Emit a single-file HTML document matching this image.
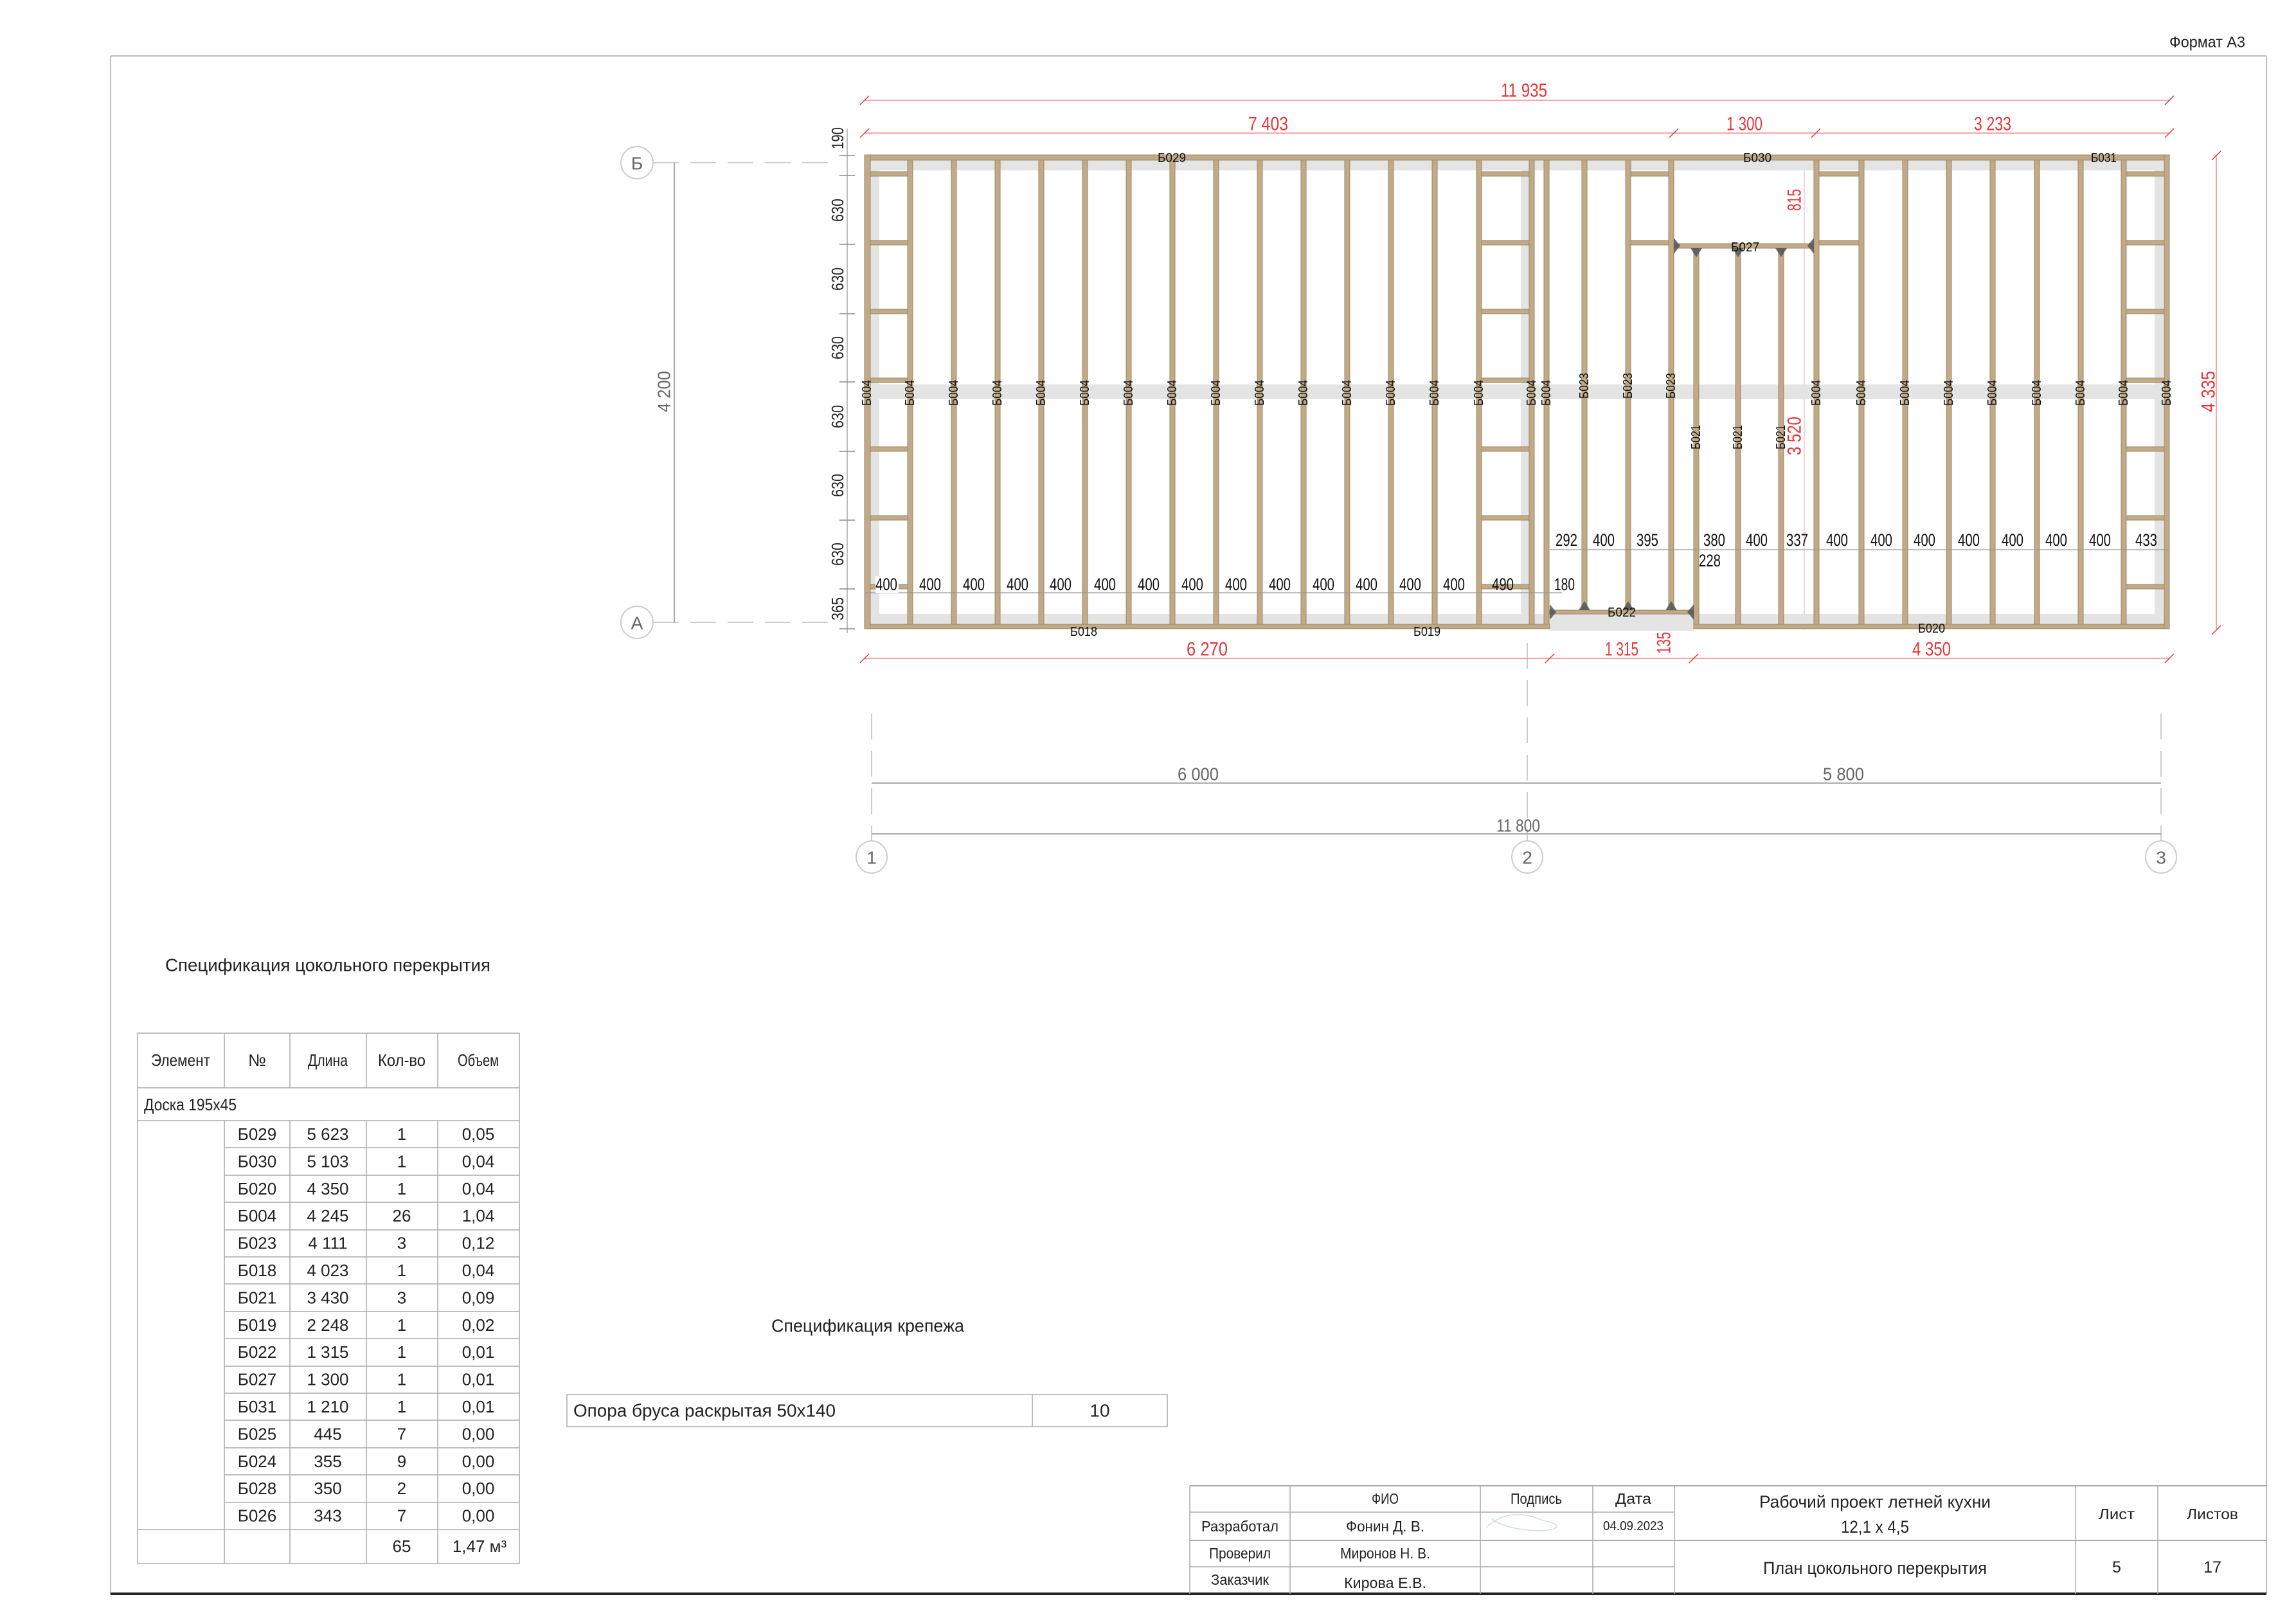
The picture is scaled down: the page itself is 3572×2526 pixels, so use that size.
<!DOCTYPE html>
<html><head><meta charset="utf-8"><style>
html,body{margin:0;padding:0;background:#fff;}
svg{display:block;font-family:"Liberation Sans","DejaVu Sans",sans-serif;}
</style></head><body>
<svg width="3572" height="2526" viewBox="0 0 3572 2526" xmlns="http://www.w3.org/2000/svg">
<rect width="3572" height="2526" fill="#fff"/>
<!-- sheet frame -->
<line x1="172" y1="87" x2="3526" y2="87" stroke="#bbb" stroke-width="2"/>
<line x1="172" y1="87" x2="172" y2="2479" stroke="#bbb" stroke-width="2"/>
<line x1="3526" y1="87" x2="3526" y2="2479" stroke="#bbb" stroke-width="2"/>
<line x1="172" y1="2479" x2="3526" y2="2479" stroke="#222" stroke-width="4"/>
<text x="3434" y="66" font-size="24" text-anchor="middle" dominant-baseline="central" textLength="118" lengthAdjust="spacingAndGlyphs" fill="#222">Формат А3</text>

<!-- grid axes -->
<g stroke="#ccc" stroke-width="2" fill="none">
<ellipse cx="991" cy="253" rx="25" ry="25"/>
<ellipse cx="991" cy="968" rx="25" ry="25"/>
<ellipse cx="1356" cy="1333" rx="24" ry="25"/>
<ellipse cx="2376" cy="1333" rx="24" ry="25"/>
<ellipse cx="3362" cy="1333" rx="24" ry="25"/>
<line x1="1016" y1="253" x2="1300" y2="253" stroke-dasharray="40,18"/>
<line x1="1016" y1="968" x2="1300" y2="968" stroke-dasharray="40,18"/>
<line x1="1356" y1="1110" x2="1356" y2="1308" stroke-dasharray="40,18"/>
<line x1="2376" y1="1000" x2="2376" y2="1308" stroke-dasharray="40,18"/>
<line x1="3362" y1="1110" x2="3362" y2="1308" stroke-dasharray="40,18"/>
</g>
<g stroke="#aaa" stroke-width="2">
<line x1="1049" y1="253" x2="1049" y2="968"/>
<line x1="1356" y1="1218" x2="3362" y2="1218"/>
<line x1="1356" y1="1297" x2="3362" y2="1297"/>
</g>
<g fill="#666" font-size="28" text-anchor="middle" dominant-baseline="central">
<text x="991" y="254">Б</text><text x="991" y="969">А</text>
<text x="1356" y="1334">1</text><text x="2376" y="1334">2</text><text x="3362" y="1334">3</text>
<text x="1864" y="1204" textLength="64" lengthAdjust="spacingAndGlyphs">6 000</text>
<text x="2868" y="1204" textLength="64" lengthAdjust="spacingAndGlyphs">5 800</text>
<text x="2362" y="1284" textLength="68" lengthAdjust="spacingAndGlyphs">11 800</text>
<text transform="translate(1033,609) rotate(-90)" textLength="64" lengthAdjust="spacingAndGlyphs">4 200</text>
</g>

<!-- left dim column -->
<line x1="1318" y1="200" x2="1318" y2="985" stroke="#aaa" stroke-width="1.5"/>
<g stroke="#888" stroke-width="1.5">
<line x1="1306" y1="242" x2="1330" y2="242"/><line x1="1306" y1="273" x2="1330" y2="273"/>
<line x1="1306" y1="380" x2="1330" y2="380"/><line x1="1306" y1="488" x2="1330" y2="488"/>
<line x1="1306" y1="594" x2="1330" y2="594"/><line x1="1306" y1="702" x2="1330" y2="702"/>
<line x1="1306" y1="809" x2="1330" y2="809"/><line x1="1306" y1="916" x2="1330" y2="916"/>
<line x1="1306" y1="978" x2="1330" y2="978"/>
</g>
<g fill="#222" font-size="26" text-anchor="middle" dominant-baseline="central">
<text transform="translate(1303,215) rotate(-90)" textLength="34" lengthAdjust="spacingAndGlyphs">190</text>
<text transform="translate(1303,327) rotate(-90)" textLength="36" lengthAdjust="spacingAndGlyphs">630</text>
<text transform="translate(1303,434) rotate(-90)" textLength="36" lengthAdjust="spacingAndGlyphs">630</text>
<text transform="translate(1303,541) rotate(-90)" textLength="36" lengthAdjust="spacingAndGlyphs">630</text>
<text transform="translate(1303,648) rotate(-90)" textLength="36" lengthAdjust="spacingAndGlyphs">630</text>
<text transform="translate(1303,755) rotate(-90)" textLength="36" lengthAdjust="spacingAndGlyphs">630</text>
<text transform="translate(1303,862) rotate(-90)" textLength="36" lengthAdjust="spacingAndGlyphs">630</text>
<text transform="translate(1303,947) rotate(-90)" textLength="36" lengthAdjust="spacingAndGlyphs">365</text>
</g>

<!-- red dims -->
<g stroke="#f08a8e" stroke-width="1.5">
<line x1="1345" y1="156" x2="3375" y2="156"/>
<line x1="1345" y1="207" x2="3375" y2="207"/>
<line x1="1345" y1="1024" x2="3375" y2="1024"/>
<line x1="3448" y1="242" x2="3448" y2="980"/>
<line x1="2807" y1="242" x2="2807" y2="980" stroke="#f5c5c7"/>
</g>
<g stroke="#e8343a" stroke-width="1.5">
<line x1="1338" y1="163" x2="1352" y2="149"/><line x1="3368" y1="163" x2="3382" y2="149"/>
<line x1="1338" y1="214" x2="1352" y2="200"/><line x1="2597" y1="214" x2="2611" y2="200"/><line x1="2818" y1="214" x2="2832" y2="200"/><line x1="3368" y1="214" x2="3382" y2="200"/>
<line x1="1338" y1="1031" x2="1352" y2="1017"/><line x1="2404" y1="1031" x2="2418" y2="1017"/><line x1="2628" y1="1031" x2="2642" y2="1017"/><line x1="3368" y1="1031" x2="3382" y2="1017"/>
<line x1="3441" y1="249" x2="3455" y2="235"/><line x1="3441" y1="987" x2="3455" y2="973"/>
</g>
<g fill="#e8343a" font-size="30" text-anchor="middle" dominant-baseline="central">
<text x="2371" y="141" textLength="72" lengthAdjust="spacingAndGlyphs">11 935</text>
<text x="1973" y="193" textLength="62" lengthAdjust="spacingAndGlyphs">7 403</text>
<text x="2714" y="193" textLength="56" lengthAdjust="spacingAndGlyphs">1 300</text>
<text x="3100" y="193" textLength="58" lengthAdjust="spacingAndGlyphs">3 233</text>
<text x="1878" y="1010" textLength="64" lengthAdjust="spacingAndGlyphs">6 270</text>
<text x="2523" y="1010" textLength="52" lengthAdjust="spacingAndGlyphs">1 315</text>
<text x="3005" y="1010" textLength="60" lengthAdjust="spacingAndGlyphs">4 350</text>
<text transform="translate(2589,1000) rotate(-90)" textLength="34" lengthAdjust="spacingAndGlyphs">135</text>
<text transform="translate(2792,311) rotate(-90)" textLength="34" lengthAdjust="spacingAndGlyphs">815</text>
<text transform="translate(2792,678) rotate(-90)" textLength="60" lengthAdjust="spacingAndGlyphs">3 520</text>
<text transform="translate(3436,609) rotate(-90)" textLength="64" lengthAdjust="spacingAndGlyphs">4 335</text>
</g>

<!-- gray bands -->
<g fill="#e4e4e4">
<rect x="1354" y="249" width="2013" height="16"/>
<rect x="1354" y="598" width="2013" height="23"/>
<rect x="1354" y="955" width="1057" height="16"/>
<rect x="2411" y="955" width="224" height="26"/>
<rect x="2635" y="955" width="732" height="16"/>
<rect x="1354" y="265" width="14" height="690"/>
<rect x="2366" y="265" width="14" height="690"/>
<rect x="3352" y="265" width="14" height="690"/>
</g>

<!-- timber -->
<g fill="#c0aa87" stroke="#9c8664" stroke-width="1">
<rect x="1345" y="241" width="2030" height="8"/>
<rect x="1345" y="971" width="1066" height="7"/>
<rect x="2635" y="971" width="740" height="7"/>
<rect x="1345" y="241" width="9" height="737"/>
<rect x="3367" y="241" width="8" height="737"/>
<!-- studs full -->
<rect x="1412" y="249" width="8" height="722"/><rect x="1480" y="249" width="8" height="722"/>
<rect x="1548" y="249" width="8" height="722"/><rect x="1616" y="249" width="8" height="722"/>
<rect x="1684" y="249" width="8" height="722"/><rect x="1752" y="249" width="8" height="722"/>
<rect x="1820" y="249" width="8" height="722"/><rect x="1888" y="249" width="8" height="722"/>
<rect x="1956" y="249" width="8" height="722"/><rect x="2024" y="249" width="8" height="722"/>
<rect x="2092" y="249" width="8" height="722"/><rect x="2160" y="249" width="8" height="722"/>
<rect x="2228" y="249" width="8" height="722"/><rect x="2297" y="249" width="8" height="722"/>
<rect x="2379" y="249" width="8" height="722"/><rect x="2402" y="249" width="8" height="722"/>
<rect x="2822" y="249" width="8" height="722"/><rect x="2892" y="249" width="8" height="722"/>
<rect x="2960" y="249" width="8" height="722"/><rect x="3028" y="249" width="8" height="722"/>
<rect x="3096" y="249" width="8" height="722"/><rect x="3165" y="249" width="8" height="722"/>
<rect x="3233" y="249" width="8" height="722"/><rect x="3300" y="249" width="8" height="722"/>
<!-- Б023 -->
<rect x="2461" y="249" width="8" height="700"/><rect x="2529" y="249" width="8" height="700"/><rect x="2596" y="249" width="8" height="700"/>
<!-- Б021 -->
<rect x="2635" y="386" width="8" height="585"/><rect x="2700" y="386" width="8" height="585"/><rect x="2767" y="386" width="8" height="585"/>
<!-- headers -->
<rect x="2604" y="379" width="218" height="7"/>
<rect x="2411" y="949" width="224" height="6"/>
<!-- blocking -->
<rect x="1354" y="267" width="58" height="7"/><rect x="1354" y="374" width="58" height="7"/><rect x="1354" y="481" width="58" height="7"/><rect x="1354" y="588" width="58" height="7"/><rect x="1354" y="695" width="58" height="7"/><rect x="1354" y="802" width="58" height="7"/><rect x="1354" y="909" width="58" height="7"/>
<rect x="2305" y="267" width="74" height="7"/><rect x="2305" y="374" width="74" height="7"/><rect x="2305" y="481" width="74" height="7"/><rect x="2305" y="588" width="74" height="7"/><rect x="2305" y="695" width="74" height="7"/><rect x="2305" y="802" width="74" height="7"/><rect x="2305" y="909" width="74" height="7"/>
<rect x="3308" y="267" width="59" height="7"/><rect x="3308" y="374" width="59" height="7"/><rect x="3308" y="481" width="59" height="7"/><rect x="3308" y="588" width="59" height="7"/><rect x="3308" y="695" width="59" height="7"/><rect x="3308" y="802" width="59" height="7"/><rect x="3308" y="909" width="59" height="7"/>
<rect x="2537" y="267" width="59" height="7"/><rect x="2537" y="374" width="59" height="7"/>
<rect x="2830" y="267" width="62" height="7"/><rect x="2830" y="374" width="62" height="7"/>
</g>
<!-- hangers -->
<g fill="#555" opacity="0.85">
<polygon points="2604,370 2614,382 2604,395"/><polygon points="2822,370 2812,382 2822,395"/>
<polygon points="2630,386 2648,386 2639,400"/><polygon points="2695,386 2713,386 2704,400"/><polygon points="2762,386 2780,386 2771,400"/>
<polygon points="2411,940 2421,952 2411,964"/><polygon points="2635,940 2625,952 2635,964"/>
<polygon points="2456,949 2474,949 2465,935"/><polygon points="2524,949 2542,949 2533,935"/><polygon points="2591,949 2609,949 2600,935"/>
</g>

<!-- member labels -->
<g fill="#111" font-size="20" text-anchor="middle" dominant-baseline="central">
<g>
<text transform="translate(1349,611) rotate(-90)" textLength="40" lengthAdjust="spacingAndGlyphs">Б004</text>
<text transform="translate(1416,611) rotate(-90)" textLength="40" lengthAdjust="spacingAndGlyphs">Б004</text>
<text transform="translate(1484,611) rotate(-90)" textLength="40" lengthAdjust="spacingAndGlyphs">Б004</text>
<text transform="translate(1552,611) rotate(-90)" textLength="40" lengthAdjust="spacingAndGlyphs">Б004</text>
<text transform="translate(1620,611) rotate(-90)" textLength="40" lengthAdjust="spacingAndGlyphs">Б004</text>
<text transform="translate(1688,611) rotate(-90)" textLength="40" lengthAdjust="spacingAndGlyphs">Б004</text>
<text transform="translate(1756,611) rotate(-90)" textLength="40" lengthAdjust="spacingAndGlyphs">Б004</text>
<text transform="translate(1824,611) rotate(-90)" textLength="40" lengthAdjust="spacingAndGlyphs">Б004</text>
<text transform="translate(1892,611) rotate(-90)" textLength="40" lengthAdjust="spacingAndGlyphs">Б004</text>
<text transform="translate(1960,611) rotate(-90)" textLength="40" lengthAdjust="spacingAndGlyphs">Б004</text>
<text transform="translate(2028,611) rotate(-90)" textLength="40" lengthAdjust="spacingAndGlyphs">Б004</text>
<text transform="translate(2096,611) rotate(-90)" textLength="40" lengthAdjust="spacingAndGlyphs">Б004</text>
<text transform="translate(2164,611) rotate(-90)" textLength="40" lengthAdjust="spacingAndGlyphs">Б004</text>
<text transform="translate(2232,611) rotate(-90)" textLength="40" lengthAdjust="spacingAndGlyphs">Б004</text>
<text transform="translate(2301,611) rotate(-90)" textLength="40" lengthAdjust="spacingAndGlyphs">Б004</text>
<text transform="translate(2383,611) rotate(-90)" textLength="40" lengthAdjust="spacingAndGlyphs">Б004</text>
<text transform="translate(2406,611) rotate(-90)" textLength="40" lengthAdjust="spacingAndGlyphs">Б004</text>
<text transform="translate(2465,600) rotate(-90)" textLength="40" lengthAdjust="spacingAndGlyphs">Б023</text>
<text transform="translate(2533,600) rotate(-90)" textLength="40" lengthAdjust="spacingAndGlyphs">Б023</text>
<text transform="translate(2600,600) rotate(-90)" textLength="40" lengthAdjust="spacingAndGlyphs">Б023</text>
<text transform="translate(2639,680) rotate(-90)" textLength="38" lengthAdjust="spacingAndGlyphs">Б021</text>
<text transform="translate(2704,680) rotate(-90)" textLength="38" lengthAdjust="spacingAndGlyphs">Б021</text>
<text transform="translate(2771,680) rotate(-90)" textLength="38" lengthAdjust="spacingAndGlyphs">Б021</text>
<text transform="translate(2826,611) rotate(-90)" textLength="40" lengthAdjust="spacingAndGlyphs">Б004</text>
<text transform="translate(2896,611) rotate(-90)" textLength="40" lengthAdjust="spacingAndGlyphs">Б004</text>
<text transform="translate(2964,611) rotate(-90)" textLength="40" lengthAdjust="spacingAndGlyphs">Б004</text>
<text transform="translate(3032,611) rotate(-90)" textLength="40" lengthAdjust="spacingAndGlyphs">Б004</text>
<text transform="translate(3100,611) rotate(-90)" textLength="40" lengthAdjust="spacingAndGlyphs">Б004</text>
<text transform="translate(3169,611) rotate(-90)" textLength="40" lengthAdjust="spacingAndGlyphs">Б004</text>
<text transform="translate(3237,611) rotate(-90)" textLength="40" lengthAdjust="spacingAndGlyphs">Б004</text>
<text transform="translate(3304,611) rotate(-90)" textLength="40" lengthAdjust="spacingAndGlyphs">Б004</text>
<text transform="translate(3371,611) rotate(-90)" textLength="40" lengthAdjust="spacingAndGlyphs">Б004</text>
</g>
<text x="1823" y="246" textLength="44" lengthAdjust="spacingAndGlyphs">Б029</text>
<text x="2734" y="246" textLength="44" lengthAdjust="spacingAndGlyphs">Б030</text>
<text x="3273" y="246" textLength="40" lengthAdjust="spacingAndGlyphs">Б031</text>
<text x="1686" y="983" textLength="42" lengthAdjust="spacingAndGlyphs">Б018</text>
<text x="2220" y="983" textLength="42" lengthAdjust="spacingAndGlyphs">Б019</text>
<text x="3005" y="978" textLength="42" lengthAdjust="spacingAndGlyphs">Б020</text>
<text x="2715" y="385" textLength="44" lengthAdjust="spacingAndGlyphs">Б027</text>
<text x="2523" y="953" textLength="44" lengthAdjust="spacingAndGlyphs">Б022</text>
</g>

<!-- internal dims -->
<g stroke="#999" stroke-width="1.2">
<line x1="1345" y1="922" x2="2430" y2="922"/>
<line x1="2411" y1="855" x2="3375" y2="855"/>
</g>
<g font-size="27" text-anchor="middle" dominant-baseline="central" fill="#111">
<g fill="#fff"><rect x="1362" y="896" width="36" height="26"/></g>
<text x="1379" y="909" textLength="34" lengthAdjust="spacingAndGlyphs">400</text>
<text x="1447" y="909" textLength="34" lengthAdjust="spacingAndGlyphs">400</text>
<text x="1515" y="909" textLength="34" lengthAdjust="spacingAndGlyphs">400</text>
<text x="1583" y="909" textLength="34" lengthAdjust="spacingAndGlyphs">400</text>
<text x="1650" y="909" textLength="34" lengthAdjust="spacingAndGlyphs">400</text>
<text x="1719" y="909" textLength="34" lengthAdjust="spacingAndGlyphs">400</text>
<text x="1787" y="909" textLength="34" lengthAdjust="spacingAndGlyphs">400</text>
<text x="1855" y="909" textLength="34" lengthAdjust="spacingAndGlyphs">400</text>
<text x="1923" y="909" textLength="34" lengthAdjust="spacingAndGlyphs">400</text>
<text x="1991" y="909" textLength="34" lengthAdjust="spacingAndGlyphs">400</text>
<text x="2059" y="909" textLength="34" lengthAdjust="spacingAndGlyphs">400</text>
<text x="2126" y="909" textLength="34" lengthAdjust="spacingAndGlyphs">400</text>
<text x="2194" y="909" textLength="34" lengthAdjust="spacingAndGlyphs">400</text>
<text x="2262" y="909" textLength="34" lengthAdjust="spacingAndGlyphs">400</text>
<text x="2338" y="909" textLength="34" lengthAdjust="spacingAndGlyphs">490</text>
<text x="2434" y="909" textLength="32" lengthAdjust="spacingAndGlyphs">180</text>
<text x="2437" y="840" textLength="34" lengthAdjust="spacingAndGlyphs">292</text>
<text x="2495" y="840" textLength="34" lengthAdjust="spacingAndGlyphs">400</text>
<text x="2563" y="840" textLength="34" lengthAdjust="spacingAndGlyphs">395</text>
<text x="2667" y="840" textLength="34" lengthAdjust="spacingAndGlyphs">380</text>
<text x="2733" y="840" textLength="34" lengthAdjust="spacingAndGlyphs">400</text>
<text x="2796" y="840" textLength="34" lengthAdjust="spacingAndGlyphs">337</text>
<text x="2858" y="840" textLength="34" lengthAdjust="spacingAndGlyphs">400</text>
<text x="2927" y="840" textLength="34" lengthAdjust="spacingAndGlyphs">400</text>
<text x="2994" y="840" textLength="34" lengthAdjust="spacingAndGlyphs">400</text>
<text x="3063" y="840" textLength="34" lengthAdjust="spacingAndGlyphs">400</text>
<text x="3131" y="840" textLength="34" lengthAdjust="spacingAndGlyphs">400</text>
<text x="3199" y="840" textLength="34" lengthAdjust="spacingAndGlyphs">400</text>
<text x="3267" y="840" textLength="34" lengthAdjust="spacingAndGlyphs">400</text>
<text x="3339" y="840" textLength="34" lengthAdjust="spacingAndGlyphs">433</text>
<rect x="2644" y="858" width="38" height="28" fill="#fff"/>
<text x="2660" y="872" textLength="34" lengthAdjust="spacingAndGlyphs">228</text>
</g>

<!-- spec table -->
<text x="510" y="1501" font-size="28" text-anchor="middle" dominant-baseline="central" textLength="506" lengthAdjust="spacingAndGlyphs" fill="#222">Спецификация цокольного перекрытия</text>
<g stroke="#aaa" stroke-width="1.5" fill="none">
<rect x="214" y="1607" width="594" height="825"/>
<line x1="214" y1="1692" x2="808" y2="1692"/>
<line x1="214" y1="1743" x2="808" y2="1743"/>
<line x1="214" y1="2379" x2="808" y2="2379"/>
<line x1="349" y1="1607" x2="349" y2="1692"/><line x1="451" y1="1607" x2="451" y2="1692"/><line x1="570" y1="1607" x2="570" y2="1692"/><line x1="681" y1="1607" x2="681" y2="1692"/>
<line x1="349" y1="1743" x2="349" y2="2432"/><line x1="451" y1="1743" x2="451" y2="2432"/><line x1="570" y1="1743" x2="570" y2="2432"/><line x1="681" y1="1743" x2="681" y2="2432"/>
<line x1="349" y1="1785" x2="808" y2="1785"/><line x1="349" y1="1828" x2="808" y2="1828"/><line x1="349" y1="1870" x2="808" y2="1870"/>
<line x1="349" y1="1913" x2="808" y2="1913"/><line x1="349" y1="1955" x2="808" y2="1955"/><line x1="349" y1="1997" x2="808" y2="1997"/>
<line x1="349" y1="2040" x2="808" y2="2040"/><line x1="349" y1="2082" x2="808" y2="2082"/><line x1="349" y1="2125" x2="808" y2="2125"/>
<line x1="349" y1="2167" x2="808" y2="2167"/><line x1="349" y1="2209" x2="808" y2="2209"/><line x1="349" y1="2252" x2="808" y2="2252"/>
<line x1="349" y1="2294" x2="808" y2="2294"/><line x1="349" y1="2337" x2="808" y2="2337"/>
</g>
<g font-size="26" fill="#222" text-anchor="middle" dominant-baseline="central">
<text x="281" y="1649" textLength="92" lengthAdjust="spacingAndGlyphs">Элемент</text>
<text x="400" y="1649">№</text>
<text x="510" y="1649" textLength="62" lengthAdjust="spacingAndGlyphs">Длина</text>
<text x="625" y="1649" textLength="74" lengthAdjust="spacingAndGlyphs">Кол-во</text>
<text x="744" y="1649" textLength="64" lengthAdjust="spacingAndGlyphs">Объем</text>
<text x="224" y="1718" text-anchor="start" textLength="144" lengthAdjust="spacingAndGlyphs">Доска 195x45</text>
</g>
<g font-size="26" fill="#222" text-anchor="middle" dominant-baseline="central">
<g transform="translate(0,1764)">
<text x="400" y="0">Б029</text><text x="510" y="0">5 623</text><text x="625" y="0">1</text><text x="744" y="0">0,05</text>
<text x="400" y="42.4">Б030</text><text x="510" y="42.4">5 103</text><text x="625" y="42.4">1</text><text x="744" y="42.4">0,04</text>
<text x="400" y="84.8">Б020</text><text x="510" y="84.8">4 350</text><text x="625" y="84.8">1</text><text x="744" y="84.8">0,04</text>
<text x="400" y="127.2">Б004</text><text x="510" y="127.2">4 245</text><text x="625" y="127.2">26</text><text x="744" y="127.2">1,04</text>
<text x="400" y="169.6">Б023</text><text x="510" y="169.6">4 111</text><text x="625" y="169.6">3</text><text x="744" y="169.6">0,12</text>
<text x="400" y="212">Б018</text><text x="510" y="212">4 023</text><text x="625" y="212">1</text><text x="744" y="212">0,04</text>
<text x="400" y="254.4">Б021</text><text x="510" y="254.4">3 430</text><text x="625" y="254.4">3</text><text x="744" y="254.4">0,09</text>
<text x="400" y="296.8">Б019</text><text x="510" y="296.8">2 248</text><text x="625" y="296.8">1</text><text x="744" y="296.8">0,02</text>
<text x="400" y="339.2">Б022</text><text x="510" y="339.2">1 315</text><text x="625" y="339.2">1</text><text x="744" y="339.2">0,01</text>
<text x="400" y="381.6">Б027</text><text x="510" y="381.6">1 300</text><text x="625" y="381.6">1</text><text x="744" y="381.6">0,01</text>
<text x="400" y="424">Б031</text><text x="510" y="424">1 210</text><text x="625" y="424">1</text><text x="744" y="424">0,01</text>
<text x="400" y="466.4">Б025</text><text x="510" y="466.4">445</text><text x="625" y="466.4">7</text><text x="744" y="466.4">0,00</text>
<text x="400" y="508.8">Б024</text><text x="510" y="508.8">355</text><text x="625" y="508.8">9</text><text x="744" y="508.8">0,00</text>
<text x="400" y="551.2">Б028</text><text x="510" y="551.2">350</text><text x="625" y="551.2">2</text><text x="744" y="551.2">0,00</text>
<text x="400" y="593.6">Б026</text><text x="510" y="593.6">343</text><text x="625" y="593.6">7</text><text x="744" y="593.6">0,00</text>
</g>
<text x="625" y="2405">65</text><text x="746" y="2405">1,47 м³</text>
</g>

<!-- fastener spec -->
<text x="1350" y="2062" font-size="28" text-anchor="middle" dominant-baseline="central" textLength="300" lengthAdjust="spacingAndGlyphs" fill="#222">Спецификация крепежа</text>
<g stroke="#aaa" stroke-width="1.5" fill="none">
<rect x="882" y="2169" width="934" height="50"/>
<line x1="1606" y1="2169" x2="1606" y2="2219"/>
</g>
<text x="892" y="2194" font-size="28" dominant-baseline="central" textLength="408" lengthAdjust="spacingAndGlyphs" fill="#222">Опора бруса раскрытая 50х140</text>
<text x="1711" y="2194" font-size="28" text-anchor="middle" dominant-baseline="central" fill="#222">10</text>

<!-- title block -->
<g stroke="#aaa" stroke-width="1.5" fill="none">
<line x1="1851" y1="2311" x2="3527" y2="2311" stroke-width="2"/>
<line x1="1851" y1="2352" x2="2605" y2="2352"/>
<line x1="1851" y1="2396" x2="3527" y2="2396" stroke-width="2"/>
<line x1="1851" y1="2437" x2="2605" y2="2437"/>
<line x1="1851" y1="2311" x2="1851" y2="2479"/>
<line x1="2007" y1="2311" x2="2007" y2="2479"/>
<line x1="2303" y1="2311" x2="2303" y2="2479"/>
<line x1="2478" y1="2311" x2="2478" y2="2479"/>
<line x1="2605" y1="2311" x2="2605" y2="2479"/>
<line x1="3229" y1="2311" x2="3229" y2="2479"/>
<line x1="3357" y1="2311" x2="3357" y2="2479"/>
<path d="M2312,2376 C2340,2350 2370,2352 2400,2365 C2440,2372 2420,2384 2380,2380 C2350,2378 2330,2370 2320,2362" stroke="#cfdde6"/>
</g>
<g font-size="23" fill="#222" text-anchor="middle" dominant-baseline="central">
<text x="2155" y="2331" textLength="42" lengthAdjust="spacingAndGlyphs">ФИО</text>
<text x="2390" y="2331" textLength="80" lengthAdjust="spacingAndGlyphs">Подпись</text>
<text x="2541" y="2331" textLength="56" lengthAdjust="spacingAndGlyphs">Дата</text>
<text x="1929" y="2374" textLength="120" lengthAdjust="spacingAndGlyphs">Разработал</text>
<text x="2155" y="2374" textLength="122" lengthAdjust="spacingAndGlyphs">Фонин Д. В.</text>
<text x="2541" y="2374" font-size="20" textLength="94" lengthAdjust="spacingAndGlyphs">04.09.2023</text>
<text x="1929" y="2416" textLength="96" lengthAdjust="spacingAndGlyphs">Проверил</text>
<text x="2155" y="2416" textLength="140" lengthAdjust="spacingAndGlyphs">Миронов Н. В.</text>
<text x="1929" y="2457" textLength="90" lengthAdjust="spacingAndGlyphs">Заказчик</text>
<text x="2155" y="2462" textLength="128" lengthAdjust="spacingAndGlyphs">Кирова Е.В.</text>
<text x="2917" y="2336" font-size="27" textLength="360" lengthAdjust="spacingAndGlyphs">Рабочий проект летней кухни</text>
<text x="2917" y="2375" font-size="27" textLength="106" lengthAdjust="spacingAndGlyphs">12,1 x 4,5</text>
<text x="2917" y="2439" font-size="27" textLength="348" lengthAdjust="spacingAndGlyphs">План цокольного перекрытия</text>
<text x="3293" y="2355" textLength="56" lengthAdjust="spacingAndGlyphs">Лист</text>
<text x="3442" y="2355" textLength="80" lengthAdjust="spacingAndGlyphs">Листов</text>
<text x="3293" y="2438" font-size="25">5</text>
<text x="3442" y="2438" font-size="25">17</text>
</g>
</svg>
</body></html>
